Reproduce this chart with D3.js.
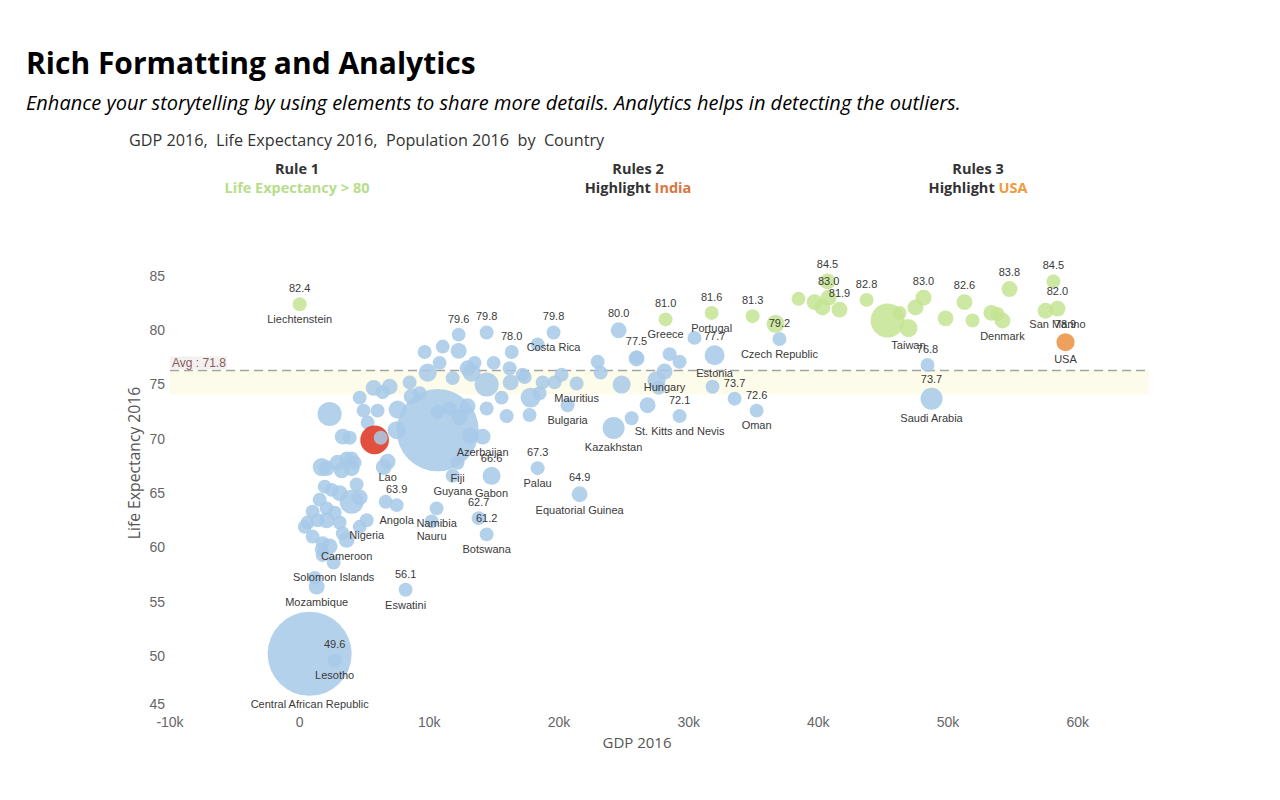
<!DOCTYPE html>
<html><head><meta charset="utf-8">
<script src="https://cdn.jsdelivr.net/npm/d3@7/dist/d3.min.js"></script>
<style>
body{margin:0;background:#fff;}
svg{display:block;}
</style>
</head><body>
<svg id="chart" width="1280" height="800"></svg>
<script>
// ---------------- DATA ----------------
// unlabeled countries are kept with an empty name
const country = [
 "Central African Republic","",
 ...Array(57).fill(""),
 ...Array(33).fill(""),
 "Lesotho","Mozambique","Solomon Islands","Cameroon","Nigeria","Angola","Lao","Eswatini","Namibia","Nauru",
 "","Botswana","Gabon","Fiji","Guyana","Azerbaijan","Palau","Equatorial Guinea","Kazakhstan","St. Kitts and Nevis",
 "Bulgaria","Mauritius","Hungary","Costa Rica","","","","","","Czech Republic",
 "Estonia","","Oman","","Saudi Arabia",
 ...Array(12).fill(""),
 "Liechtenstein","Greece","Portugal","","","","","","Taiwan","","","Denmark","","","San Marino",
 "India","","USA"
];
const gdp = [
 770,10640,
 2310,4630,4930,5710,6400,6940,6010,5240,3320,3860,8480,9250,8640,7560,7480,9640,11030,12260,10790,9870,11800,12950,13490,13260,14960,16190,14420,15570,14420,15960,13110,12950,12340,11570,10640,17350,18350,17810,18500,17190,18740,20200,19660,22980,23210,24830,17730,16270,25980,30450,28530,29300,27520,27680,26830,25600,31840,
 1700,2080,2930,3620,4240,4010,3240,4010,4390,1930,2470,1540,3080,4010,4630,1000,2080,2700,620,390,1390,2080,3080,1000,1770,2310,3320,1700,1770,1160,4630,6630,6480,
 2700,1310,2620,3620,5170,7480,6780,8170,10560,10180,
 13800,14420,14800,12180,11800,14110,18350,21590,24210,29300,
 20660,21360,28140,19580,12260,14420,16350,24600,25980,37000,
 32000,33540,35240,48420,48730,
 45340,36700,38470,39710,40320,46260,47490,49810,51890,53350,53820,57520,
 0,28220,31770,34930,40710,40790,41630,43720,46950,48110,51270,54200,54740,58130,58440,
 5780,6250,59060
];
const lifeExp = [
 50.2,70.8,
 72.3,73.8,72.6,74.7,74.3,74.8,72.6,71.5,70.2,70.1,75.2,74.2,73.9,72.7,70.8,78.0,78.5,78.1,77.0,76.1,75.6,76.5,77.0,76.1,77.0,76.5,75.0,73.8,72.8,72.1,70.3,73.0,72.0,72.8,72.5,75.7,78.7,73.8,74.2,75.9,75.2,75.9,75.2,77.1,76.1,75.0,72.2,75.2,77.4,79.3,77.8,77.1,75.4,74.7,73.1,71.9,74.8,
 67.4,67.3,67.8,68.2,67.8,67.3,67.1,68.2,65.8,65.6,65.3,64.4,65.0,64.2,64.6,63.3,63.6,63.2,62.3,61.9,62.5,62.5,62.3,61.0,60.4,60.1,61.3,59.8,59.3,57.2,61.9,64.2,67.4,
 49.6,56.4,58.6,60.7,62.5,63.9,67.9,56.1,63.6,62.4,
 62.7,61.2,66.6,67.8,66.6,70.2,67.3,64.9,71.0,72.1,
 73.1,75.1,76.2,79.8,79.6,79.8,78.0,80.0,77.5,79.2,
 77.7,73.7,72.6,76.8,73.7,
 80.9,80.6,82.9,82.6,82.1,81.6,82.1,81.1,80.9,81.6,81.5,81.8,
 82.4,81.0,81.6,81.3,84.5,83.0,81.9,82.8,80.2,83.0,82.6,80.9,83.8,84.5,82.0,
 69.9,70.1,78.9
];
const population = [
 1400,1330,
 39,1,1,4,1,4,1,1,4,1,1,1,4,10,10,1,1,4,1,10,1,4,1,10,1,1,39,1,1,1,4,4,4,1,1,1,1,17,1,1,1,1,1,1,1,10,1,4,4,1,1,1,10,1,4,1,1,
 10,4,4,1,1,4,4,1,1,1,1,1,4,39,4,1,1,1,1,1,1,4,1,1,1,4,1,1,1,1,1,1,4,
 1,4,1,4,1,1,4,1,1,1,
 1,1,10,1,1,4,1,4,27,1,
 1,1,4,1,1,1,1,4,1,1,
 17,1,1,1,27,
 131,10,1,4,4,1,4,4,1,4,1,4,
 1,1,1,1,4,4,4,1,10,4,4,4,4,1,4,
 75,1,10
];
// label mode per point: "n" = name, "v" = value, "nv" = both
const labelMode = [
 "n","",
 ...Array(57).fill(""),
 ...Array(33).fill(""),
 "nv","n","n","n","n","nv","n","nv","n","n",
 "v","nv","nv","n","n","n","nv","nv","n","nv",
 "n","n","n","nv","v","v","v","v","v","nv",
 "nv","v","nv","v","nv",
 ...Array(12).fill(""),
 "nv","nv","nv","v","v","v","v","v","n","v","v","n","v","v","nv",
 "","","nv"
];
const xTickValues = [-10000,0,10000,20000,30000,40000,50000,60000];
const yTickValues = [45,50,55,60,65,70,75,80,85];
const avgLabelValue = 71.8;
const avgLineLevel = 76.3;
const bandRange = [74.1, 76.3];
const ruleThreshold = 80;
const highlightRed = "India";
const highlightOrange = "USA";

// ---------------- DRAW ----------------
const svg = d3.select("#chart");
svg.append("rect").attr("width",1280).attr("height",800).attr("fill","#fff");

const x = d3.scaleLinear().domain([-10000, 65500]).range([170, 1149]);
const y = d3.scaleLinear().domain([45, 85]).range([710.3, 276]);
const r = d3.scaleSqrt().domain([0, 1400]).range([6, 42]);

const data = country.map((c,i)=>({name:c, gdp:gdp[i], life:lifeExp[i], pop:population[i], mode:labelMode[i]}));

// Titles
svg.append("text").attr("x",26).attr("y",74)
  .style("font-family","'Open Sans', sans-serif").style("font-weight","700").style("font-size","30px")
  .attr("fill","#000").text("Rich Formatting and Analytics");
svg.append("text").attr("x",26).attr("y",110)
  .style("font-family","'Open Sans', sans-serif").style("font-style","italic").style("font-size","20px")
  .attr("fill","#000").text("Enhance your storytelling by using elements to share more details. Analytics helps in detecting the outliers.");
svg.append("text").attr("x",129).attr("y",146)
  .style("font-family","'Open Sans', sans-serif").style("font-size","16.2px")
  .attr("fill","#333").attr("xml:space","preserve")
  .text("GDP 2016,  Life Expectancy 2016,  Population 2016  by  Country");

// Rule headers
const ruleFont = "'Open Sans', sans-serif";
function header(cx, l1, parts){
  svg.append("text").attr("x",cx).attr("y",174).attr("text-anchor","middle")
    .style("font-family",ruleFont).style("font-weight","700").style("font-size","14.5px")
    .attr("fill","#333").text(l1);
  const t = svg.append("text").attr("x",cx).attr("y",193).attr("text-anchor","middle")
    .style("font-family",ruleFont).style("font-weight","700").style("font-size","14.5px");
  parts.forEach(p=>t.append("tspan").attr("fill",p[1]).text(p[0]));
}
header(297, "Rule 1", [["Life Expectancy > 80","#b7dd8c"]]);
header(638, "Rules 2", [["Highlight ","#333"],["India","#d8763f"]]);
header(978, "Rules 3", [["Highlight ","#333"],["USA","#ef9a3d"]]);

// Band and average line
svg.append("rect").attr("x",170).attr("width",979)
  .attr("y",y(bandRange[1])).attr("height",y(bandRange[0])-y(bandRange[1]))
  .attr("fill","#fdfbe9");
svg.append("line").attr("x1",170).attr("x2",1149)
  .attr("y1",y(avgLineLevel)).attr("y2",y(avgLineLevel))
  .attr("stroke","#a3a3a3").attr("stroke-width",1.5).attr("stroke-dasharray","9,5");
svg.append("rect").attr("x",170).attr("y",y(avgLineLevel)-14).attr("width",57).attr("height",13)
  .attr("fill","#f2f0f0");
svg.append("text").attr("x",172).attr("y",y(avgLineLevel)-3)
  .style("font-family","Arial, 'Liberation Sans', sans-serif").style("font-size","12px")
  .attr("fill","#8a5b58").text("Avg : " + avgLabelValue.toFixed(1));

// Axes
const axisFont = "Arial, 'Liberation Sans', sans-serif";
const plotBottom = 704;
svg.append("g").selectAll("text").data(yTickValues).join("text")
  .attr("x",165).attr("y",d=>Math.min(y(d), plotBottom)).attr("dy","0.35em").attr("text-anchor","end")
  .style("font-family",axisFont).style("font-size","14px").attr("fill","#666").text(d=>d);
const fmtK = v => v===0 ? "0" : (v/1000)+"k";
svg.append("g").selectAll("text").data(xTickValues).join("text")
  .attr("x",d=>x(d)).attr("y",722).attr("dy","0.35em").attr("text-anchor","middle")
  .style("font-family",axisFont).style("font-size","14px").attr("fill","#666").text(fmtK);
svg.append("text").attr("x",637).attr("y",748).attr("text-anchor","middle")
  .style("font-family","'Open Sans', sans-serif").style("font-size","15px").attr("fill","#555").text("GDP 2016");
svg.append("text").attr("transform","translate(140,463) rotate(-90)").attr("text-anchor","middle")
  .style("font-family","'Open Sans', sans-serif").style("font-size","15.7px").attr("fill","#555").text("Life Expectancy 2016");

// Bubbles
function colorOf(d){
  if(d.name===highlightRed) return "#e0402f";
  if(d.name===highlightOrange) return "#ea913f";
  if(d.life>ruleThreshold) return "#c3e492";
  return "#a7c9e7";
}
svg.append("g").selectAll("circle").data(data).join("circle")
  .attr("cx",d=>x(d.gdp)).attr("cy",d=>y(d.life)).attr("r",d=>r(d.pop))
  .attr("fill",colorOf).attr("fill-opacity",d=>d.name===highlightRed?0.92:0.85);

// Labels
const lab = svg.append("g").style("font-family",axisFont).style("font-size","11px").attr("fill","#3a3a3a");
data.forEach(d=>{
  const cx = x(d.gdp), cy = y(d.life), rr = r(d.pop);
  if(d.mode.includes("v")){
    lab.append("text").attr("x",cx).attr("y",cy-rr-9).attr("dy","0.35em").attr("text-anchor","middle").text(d.life.toFixed(1));
  }
  if(d.mode.includes("n")){
    lab.append("text").attr("x",cx).attr("y",cy+rr+8).attr("dy","0.35em").attr("text-anchor","middle").text(d.name);
  }
});
</script>
</body></html>
